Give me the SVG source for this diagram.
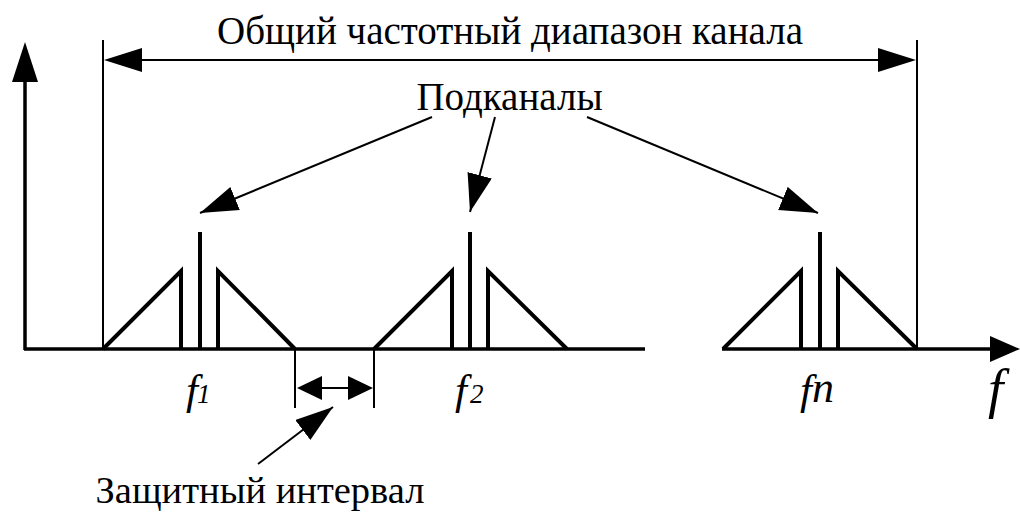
<svg xmlns="http://www.w3.org/2000/svg" width="1020" height="512" viewBox="0 0 1020 512">
<style>
.t{font-family:'Liberation Serif','Times New Roman','DejaVu Serif',serif;fill:#000}
.it{font-family:'Liberation Serif','Times New Roman','DejaVu Serif',serif;font-style:italic;fill:#000}
.ax{stroke:#000;stroke-width:3.5;fill:none}
.thin{stroke:#000;stroke-width:2;fill:none}
.sig{stroke:#000;stroke-width:4;fill:none;stroke-linejoin:miter}
.ar{stroke:#000;stroke-width:2;fill:none}
</style>
<defs>
<marker id="big" markerUnits="userSpaceOnUse" markerWidth="40" markerHeight="26" refX="38" refY="12.5" orient="auto" viewBox="0 0 40 26">
<path d="M0,0 L38,12.5 L0,25 Z" fill="#000"/>
</marker>
</defs>
<g id="axes">
<line class="ax" x1="25" y1="350" x2="25" y2="80"/>
<path d="M12,82 L25,42 L38,82 Z" fill="#000"/>
<line class="ax" x1="24" y1="349" x2="645" y2="349"/>
<line class="ax" x1="722" y1="349" x2="992" y2="349"/>
<path d="M990,336 L1020,349 L990,362 Z" fill="#000"/>
</g>
<g id="range">
<line class="thin" x1="103" y1="40" x2="103" y2="349"/>
<line class="thin" x1="917" y1="40" x2="917" y2="349"/>
<line class="ar" x1="140" y1="60" x2="880" y2="60"/>
<path d="M142,48 L104,60 L142,72 Z" fill="#000"/>
<path d="M878,48 L916,60 L878,72 Z" fill="#000"/>
<text class="t" x="510" y="44" font-size="39" text-anchor="middle">Общий частотный диапазон канала</text>
</g>
<g id="sub1">
<polyline class="sig" points="103,349 181,271 181,349"/>
<line class="sig" x1="200" y1="349" x2="200" y2="232"/>
<polyline class="sig" points="218,349 218,271 295,349"/>
<text class="it" x="186" y="404" font-size="43">f</text>
<text class="it" x="197" y="403" font-size="27">1</text>
</g>
<g id="sub2">
<polyline class="sig" points="374,349 452,271 452,349"/>
<line class="sig" x1="470" y1="349" x2="470" y2="232"/>
<polyline class="sig" points="488,349 488,271 567,349"/>
<text class="it" x="455" y="404" font-size="43">f</text>
<text class="it" x="470" y="403" font-size="27">2</text>
</g>
<g id="subn">
<polyline class="sig" points="723,349 801,271 801,349"/>
<line class="sig" x1="820" y1="349" x2="820" y2="232"/>
<polyline class="sig" points="838,349 838,271 917,349"/>
<text class="it" x="800" y="404" font-size="43">f</text>
<text class="it" x="812" y="402" font-size="44">n</text>
</g>
<g id="faxis">
<text class="it" x="988" y="407" font-size="55">f</text>
</g>
<g id="guard">
<line class="thin" x1="295" y1="349" x2="295" y2="408"/>
<line class="thin" x1="374" y1="349" x2="374" y2="408"/>
<line class="ar" x1="320" y1="388" x2="350" y2="388"/>
<path d="M322,376 L297,388 L322,400 Z" fill="#000"/>
<path d="M348,376 L373,388 L348,400 Z" fill="#000"/>
<text class="t" x="260" y="503" font-size="38.5" text-anchor="middle">Защитный интервал</text>
</g>
<g id="label-sub">
<text class="t" x="509.5" y="110" font-size="39" text-anchor="middle">Подканалы</text>
</g>
<g id="connectors">
<line class="ar" x1="432" y1="117" x2="200" y2="213" marker-end="url(#big)"/>
<line class="ar" x1="495" y1="117" x2="470" y2="212" marker-end="url(#big)"/>
<line class="ar" x1="587" y1="117" x2="818" y2="213" marker-end="url(#big)"/>
<line class="ar" x1="258" y1="464" x2="333" y2="407" marker-end="url(#big)"/>
</g>
</svg>
